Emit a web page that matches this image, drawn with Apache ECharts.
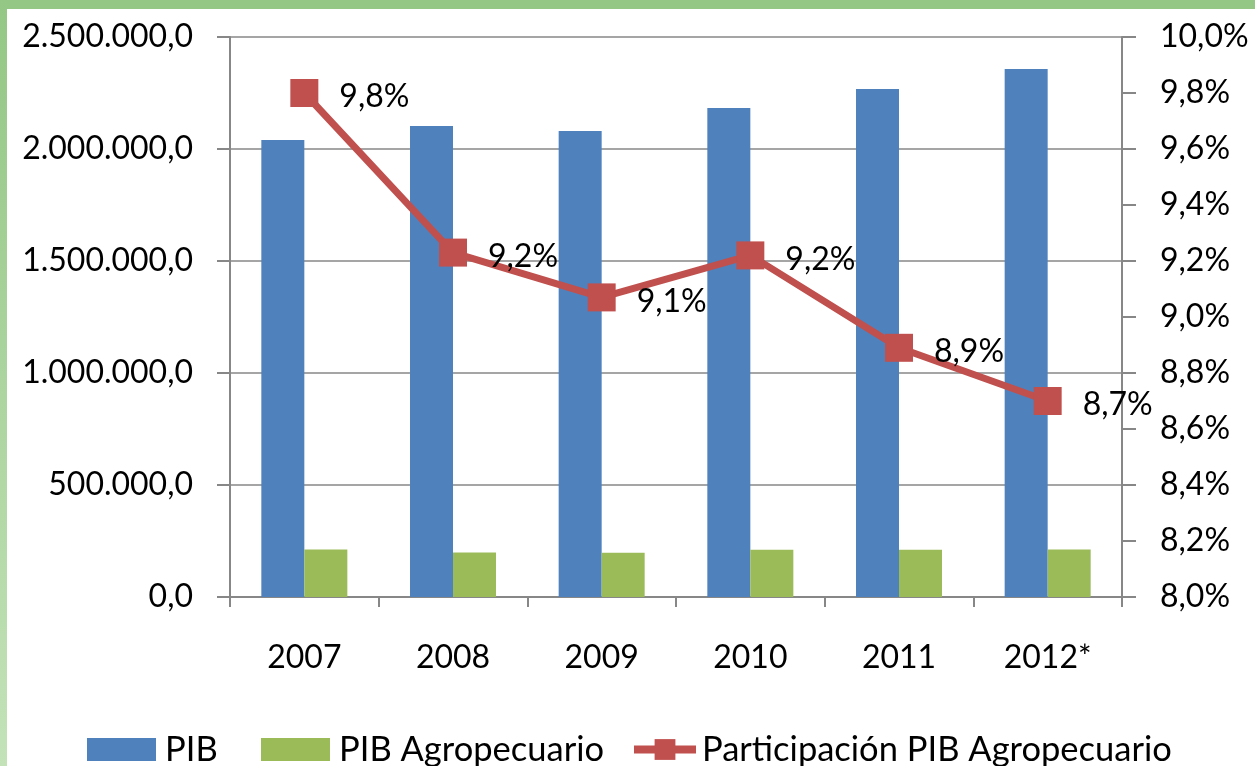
<!DOCTYPE html>
<html>
<head>
<meta charset="utf-8">
<script src="https://cdn.jsdelivr.net/npm/echarts@6/dist/echarts.min.js"></script>
<style>
  html, body { margin: 0; padding: 0; background: #fff; }
  #wrap { position: relative; width: 1255px; height: 766px; overflow: hidden; }
  #chart { position: absolute; left: 0; top: 0; width: 1255px; height: 766px; }
  /* marco verde del documento original */
  .top-band { position: absolute; left: 0; top: 0; width: 1255px; height: 9px; background: #94c785; }
  .left-band { position: absolute; left: 0; top: 0; width: 7px; height: 766px;
    background: linear-gradient(#94c785, #c3e2b8); }
</style>
</head>
<body>
<div id="wrap">
  <div id="chart"></div>
  <div class="top-band"></div>
  <div class="left-band"></div>
</div>
<script>
"use strict";

// datos del gráfico
const years = ["2007", "2008", "2009", "2010", "2011", "2012*"];
const pib = [2040000, 2103000, 2080000, 2183000, 2268000, 2357000];
const pibAgro = [212000, 199000, 198000, 211000, 211000, 212000];
const participacion = [9.8, 9.23, 9.07, 9.22, 8.89, 8.7];
const participacionLabels = ["9,8%", "9,2%", "9,1%", "9,2%", "8,9%", "8,7%"];

const FONT = "Lato";
const FS = 32;
const AXIS_GRAY = "#878787";

// 2500000 -> "2.500.000,0"
function formatMiles(v) {
  let s = String(Math.round(v));
  s = s.replace(/\B(?=(\d{3})+(?!\d))/g, ".");
  return s + ",0";
}

function formatPct(v) {
  return v.toFixed(1).replace(".", ",") + "%";
}

let chart = echarts.init(document.getElementById("chart"));

// leyenda: texto algo mayor (Calibri en el original)
function legendText(padLeft) {
  return { fontFamily: FONT, fontSize: 34.5, color: "#000", padding: [0, 0, 0, padLeft] };
}

let option = {
  backgroundColor: "#ffffff",
  animation: false,
  textStyle: { fontFamily: FONT, color: "#000" },
  grid: { left: 230, right: 133, top: 37, bottom: 169, containLabel: false },
  legend: [
    {
      data: [{ name: "PIB", icon: "rect" }], left: 87, top: 732, padding: 0,
      itemWidth: 69, itemHeight: 23, textStyle: legendText(4)
    },
    {
      data: [{ name: "PIB Agropecuario", icon: "rect" }], left: 261, top: 732, padding: 0,
      itemWidth: 69, itemHeight: 23, textStyle: legendText(4)
    },
    {
      data: ["Participación PIB Agropecuario"], left: 630, top: 732, padding: 0,
      itemWidth: 62, itemHeight: 26, textStyle: legendText(1),
      lineStyle: { width: 8 }
    }
  ],
  xAxis: {
    type: "category",
    data: years,
    boundaryGap: true,
    axisLine: { lineStyle: { color: AXIS_GRAY, width: 2 } },
    axisTick: { show: true, length: 10, lineStyle: { color: AXIS_GRAY, width: 2 } },
    axisLabel: { margin: 45, fontSize: FS, fontFamily: FONT, color: "#000" }
  },
  yAxis: [
    {
      type: "value",
      min: 0,
      max: 2500000,
      interval: 500000,
      axisLine: { show: true, lineStyle: { color: AXIS_GRAY, width: 2 } },
      axisTick: { show: true, length: 13, lineStyle: { color: AXIS_GRAY, width: 2 } },
      splitLine: { show: true, lineStyle: { color: AXIS_GRAY, width: 1.5 } },
      axisLabel: { margin: 37, fontSize: FS, fontFamily: FONT, color: "#000", formatter: formatMiles }
    },
    {
      type: "value",
      position: "right",
      min: 8,
      max: 10,
      interval: 0.2,
      axisLine: { show: true, lineStyle: { color: AXIS_GRAY, width: 2 } },
      axisTick: { show: true, length: 14, lineStyle: { color: AXIS_GRAY, width: 2 } },
      splitLine: { show: false },
      axisLabel: { margin: 38, fontSize: FS, fontFamily: FONT, color: "#000", formatter: formatPct }
    }
  ],
  series: [
    {
      name: "PIB",
      type: "bar",
      data: pib,
      barWidth: 43,
      barGap: "0%",
      itemStyle: { color: "#4f81bd" }
    },
    {
      name: "PIB Agropecuario",
      type: "bar",
      data: pibAgro,
      barWidth: 43,
      itemStyle: { color: "#9bbb59" }
    },
    {
      name: "Participación PIB Agropecuario",
      type: "line",
      yAxisIndex: 1,
      z: 5,
      data: participacion,
      symbol: "rect",
      symbolSize: 28,
      lineStyle: { color: "#c0504d", width: 7 },
      itemStyle: { color: "#c0504d" },
      label: {
        show: true,
        position: "right",
        distance: 21,
        offset: [0, 4],
        fontSize: FS,
        fontFamily: FONT,
        color: "#000",
        formatter: function (p) { return participacionLabels[p.dataIndex]; }
      }
    }
  ]
};

chart.setOption(option);
</script>
</body>
</html>
